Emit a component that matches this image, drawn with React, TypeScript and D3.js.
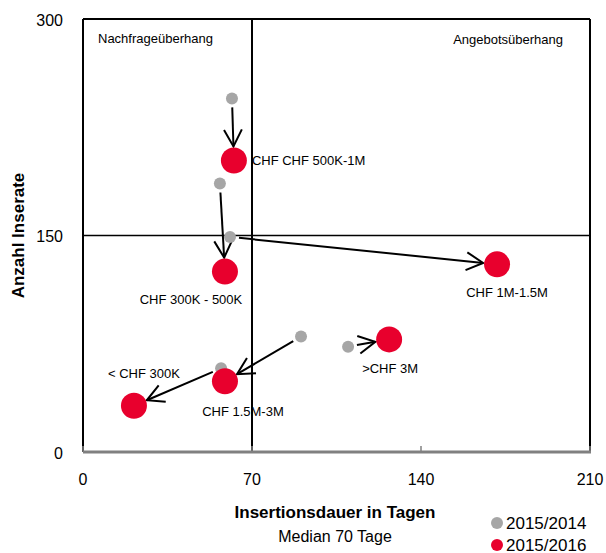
import React from "react";
import * as d3 from "d3";

const categories = ["CHF CHF 500K-1M", "CHF 300K - 500K", "CHF 1M-1.5M", "CHF 1.5M-3M", "< CHF 300K", ">CHF 3M"];
const prevDays = [61.7, 56.7, 60.9, 90.3, 57.2, 109.8];
const prevCount = [245, 186, 149, 80, 58, 73];
const currDays = [62.5, 58.8, 171.5, 58.8, 21.1, 126.8];
const currCount = [202, 125, 130, 49, 32, 78];
const xTicks = [0, 70, 140, 210];
const yTicks = [0, 150, 300];
const seriesNames = ["2015/2014", "2015/2016"];

// label layout (offsets from the 2015/2016 point)
const labelLayout = [
  { dx: 18, dy: 0, anchor: "start" },
  { dx: -34, dy: 28, anchor: "middle" },
  { dx: 10, dy: 28, anchor: "middle" },
  { dx: 18, dy: 30, anchor: "middle" },
  { dx: 10, dy: -32, anchor: "middle" },
  { dx: 1, dy: 29, anchor: "middle" },
];

const RED = "#E8002D";
const GREY = "#A6A6A6";
const FONT = "'Liberation Sans', Arial, sans-serif";

export default function App() {
  const W = 606, H = 553;
  const left = 83, right = 590, top = 19, bottom = 452;
  const x = d3.scaleLinear().domain([0, 210]).range([left, right]);
  const y = d3.scaleLinear().domain([0, 300]).range([bottom, top]);
  const rG = 6, rR = 13;

  const arrows = categories.map((_, i) => {
    const x0 = x(prevDays[i]), y0 = y(prevCount[i]);
    const x1 = x(currDays[i]), y1 = y(currCount[i]);
    const dx = x1 - x0, dy = y1 - y0;
    const len = Math.hypot(dx, dy);
    const ux = dx / len, uy = dy / len;
    const sx = x0 + ux * (rG + 3), sy = y0 + uy * (rG + 3);
    const tx = x1 - ux * (rR + 1), ty = y1 - uy * (rR + 1);
    const ang = Math.atan2(uy, ux);
    const a = (28 * Math.PI) / 180;
    const L = 19;
    const h1 = [tx - L * Math.cos(ang - a), ty - L * Math.sin(ang - a)];
    const h2 = [tx - L * Math.cos(ang + a), ty - L * Math.sin(ang + a)];
    const line = d3.line()([[sx, sy], [tx, ty]]);
    const head = d3.line()([h1 as [number, number], [tx, ty], h2 as [number, number]]);
    return { line, head };
  });

  return (
    <svg width={W} height={H} style={{ position: "absolute", left: 0, top: 0, background: "#fff" }} fontFamily={FONT}>
      <rect x={0} y={0} width={W} height={H} fill="#fff" />
      {/* frame */}
      <line x1={left} x2={right} y1={top} y2={top} stroke="#000" strokeWidth={2} />
      <line x1={right} x2={right} y1={top} y2={bottom} stroke="#000" strokeWidth={2} />
      <line x1={left} x2={left} y1={top} y2={bottom} stroke="#000" strokeWidth={2} />
      {/* quadrant lines */}
      <line x1={x(70)} x2={x(70)} y1={top} y2={bottom} stroke="#000" strokeWidth={2} />
      <line x1={left} x2={right} y1={y(150)} y2={y(150)} stroke="#000" strokeWidth={1.5} />
      {/* x axis */}
      {xTicks.map((t) => (
        <line key={"xt" + t} x1={x(t)} x2={x(t)} y1={bottom} y2={bottom - 6} stroke="#808080" strokeWidth={1.5} />
      ))}
      <line x1={left} x2={right + 1} y1={bottom} y2={bottom} stroke="#808080" strokeWidth={3} />
      {xTicks.map((t) => (
        <text key={"xl" + t} x={x(t)} y={479} fontSize={16} textAnchor="middle" dominantBaseline="central" fill="#000">
          {t}
        </text>
      ))}
      {yTicks.map((t) => (
        <text key={"yl" + t} x={63} y={y(t) + 1} fontSize={16} textAnchor="end" dominantBaseline="central" fill="#000">
          {t}
        </text>
      ))}
      {/* quadrant texts */}
      <text x={98} y={38} fontSize={13} dominantBaseline="central">Nachfrageüberhang</text>
      <text x={563} y={39} fontSize={13} textAnchor="end" dominantBaseline="central">Angebotsüberhang</text>
      {/* arrows */}
      {arrows.map((a, i) => (
        <g key={"ar" + i} fill="none" stroke="#000" strokeWidth={2}>
          <path d={a.line || ""} />
          <path d={a.head || ""} />
        </g>
      ))}
      {/* previous points */}
      {categories.map((c, i) => (
        <circle key={"p" + i} cx={x(prevDays[i])} cy={y(prevCount[i])} r={rG} fill={GREY} />
      ))}
      {/* current points */}
      {categories.map((c, i) => (
        <circle key={"c" + i} cx={x(currDays[i])} cy={y(currCount[i])} r={rR} fill={RED} />
      ))}
      {categories.map((c, i) => (
        <text
          key={"lb" + i}
          x={x(currDays[i]) + labelLayout[i].dx}
          y={y(currCount[i]) + labelLayout[i].dy}
          fontSize={13}
          textAnchor={labelLayout[i].anchor as any}
          dominantBaseline="central"
          fill="#000"
        >
          {c}
        </text>
      ))}
      {/* axis titles */}
      <text
        transform={`translate(18,${(top + bottom) / 2}) rotate(-90)`}
        fontSize={17}
        fontWeight="bold"
        textAnchor="middle"
        dominantBaseline="central"
      >
        Anzahl Inserate
      </text>
      <text x={335} y={512} fontSize={17} fontWeight="bold" textAnchor="middle" dominantBaseline="central">
        Insertionsdauer in Tagen
      </text>
      <text x={335} y={536} fontSize={16} textAnchor="middle" dominantBaseline="central">
        Median 70 Tage
      </text>
      {/* legend */}
      {seriesNames.map((s, i) => (
        <g key={"lg" + i}>
          <circle cx={497} cy={523 + i * 22} r={6} fill={i === 0 ? GREY : RED} />
          <text x={506} y={523 + i * 22} fontSize={17} dominantBaseline="central">
            {s}
          </text>
        </g>
      ))}
    </svg>
  );
}
